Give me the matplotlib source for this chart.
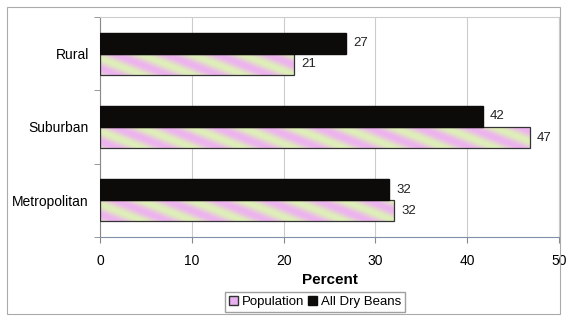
import matplotlib
matplotlib.use("Agg")
import matplotlib.pyplot as plt
import numpy as np
from matplotlib.patches import Rectangle, Patch

categories = ["Metropolitan", "Suburban", "Rural"]
population = [32.0, 46.8, 21.1]
dry_beans = [31.5, 41.7, 26.8]
pop_labels = ["32", "47", "21"]
bean_labels = ["32", "42", "27"]
xticks = [0, 10, 20, 30, 40, 50]

plt.rcParams['font.family'] = ['Liberation Sans', 'DejaVu Sans']

fig = plt.figure(figsize=(5.66, 3.21), dpi=100)
ax = fig.add_axes([100/566, 1-237/321, 459/566, 220/321])

# texture for population bars
H, W = 40, 400
yy, xx = np.mgrid[0:H, 0:W]
t = (np.sin((xx - yy * 1.2) / 7.0) + 1) / 2
pink = np.array([0.93, 0.70, 0.94])
green = np.array([0.87, 0.94, 0.72])
tex = pink[None, None, :] * t[..., None] + green[None, None, :] * (1 - t[..., None])
tex = np.clip(tex, 0, 1)

h = 0.287
y = np.arange(len(categories))
for i in range(len(categories)):
    r = Rectangle((0, y[i] - h), population[i], h, facecolor='none',
                  edgecolor='#333333', linewidth=0.9, zorder=3)
    ax.add_patch(r)
    im = ax.imshow(tex, extent=[0, 50, y[i] - h, y[i]], aspect='auto', zorder=2,
                   interpolation='bilinear')
    im.set_clip_path(r)
    ax.text(population[i] + 0.8, y[i] - h / 2, pop_labels[i], va='center',
            ha='left', fontsize=9.5, color='#222222')
    ax.barh(y[i] + h / 2, dry_beans[i], height=h, color='#0d0a0a',
            edgecolor='#0d0a0a', zorder=3)
    ax.text(dry_beans[i] + 0.8, y[i] + h / 2, bean_labels[i], va='center',
            ha='left', fontsize=9.5, color='#222222')

ax.set_xlim(0, 50)
ax.set_ylim(-0.5, 2.5)
ax.set_xticks(xticks)
ax.set_xticklabels([str(v) for v in xticks], fontsize=10)
ax.set_yticks(y)
ax.set_yticklabels(categories, fontsize=10)
ax.tick_params(axis='y', length=0, pad=8)
ax.set_yticks([-0.5, 0.5, 1.5, 2.5], minor=True)
ax.tick_params(axis='y', which='minor', length=4, color='#888888')
ax.tick_params(axis='x', length=4, color='#888888', pad=8)
ax.xaxis.grid(True, color='#cccccc', linewidth=0.8, zorder=0)
ax.set_axisbelow(True)
for s in ['top', 'right']:
    ax.spines[s].set_color('#cccccc')
ax.spines['left'].set_color('#888888')
ax.spines['bottom'].set_color('#8090a8')
ax.set_xlabel("Percent", fontsize=11, fontweight='bold', labelpad=4)

handles = [Patch(facecolor='#e8b0f0', edgecolor='#333333', label='Population'),
           Patch(facecolor='#0d0a0a', edgecolor='#0d0a0a', label='All Dry Beans')]
fig.legend(handles=handles, loc='center', bbox_to_anchor=(315/566, 1-302/321),
           ncol=2, fontsize=9.5, frameon=True, fancybox=False, handlelength=0.7,
           handleheight=0.7, handletextpad=0.3, columnspacing=0.3,
           borderpad=0.3, edgecolor='#888888')

fig.patches.append(Rectangle((7/566, 1-314/321), 553/566, 307/321, transform=fig.transFigure,
                             fill=False, edgecolor='#aaaaaa', linewidth=0.8))

fig.savefig("out.png", dpi=100)
